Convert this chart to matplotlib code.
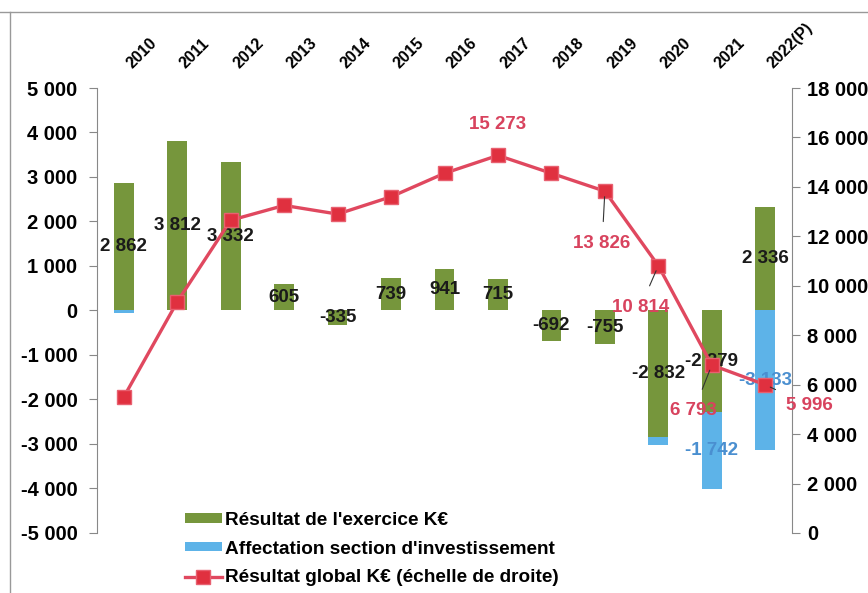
import numpy as np
import matplotlib
matplotlib.use('Agg')
import matplotlib.pyplot as plt
from matplotlib.lines import Line2D

plt.rcParams['font.family'] = ['Liberation Sans', 'DejaVu Sans']
plt.rcParams['font.weight'] = 'bold'

years = ['2010', '2011', '2012', '2013', '2014', '2015', '2016', '2017',
         '2018', '2019', '2020', '2021', '2022(P)']
resultat = [2862, 3812, 3332, 605, -335, 739, 941, 715, -692, -755, -2832, -2279, 2336]
affectation = [-50, 0, 0, 0, 0, 0, 0, 0, 0, 0, -190, -1742, -3133]
global_res = [5500, 9350, 12650, 13250, 12900, 13600, 14550, 15273, 14550, 13826,
              10814, 6793, 5996]

green = '#76963c'
blue = '#5db3e8'
red = '#e0485f'
redtxt = '#d8435e'

def fmt(v):
    return '{:,}'.format(int(v)).replace(',', ' ')

fig = plt.figure(figsize=(8.68, 5.93), dpi=100)
ax = fig.add_axes([0.1118, 0.1012, 0.8006, 0.7504])
ax2 = ax.twinx()

x = np.arange(len(years))
w = 0.37
res = np.array(resultat)
aff = np.array(affectation)
# blue stacks under the green when green is negative, otherwise from 0
base = np.where(res < 0, res, 0)
ax.bar(x, res, w, color=green, zorder=2, label="Résultat de l'exercice K€")
ax.bar(x, aff, w, bottom=base, color=blue, zorder=2,
       label="Affectation section d'investissement")

for i in range(len(years)):
    ax.text(x[i], res[i] / 2, fmt(res[i]), ha='center', va='center',
            fontsize=13.5, color='#1a1a1a', zorder=5)
    if aff[i] <= -1000:
        ax.text(x[i], base[i] + aff[i] / 2, fmt(aff[i]), ha='center', va='center',
                fontsize=13.5, color='#4a8fd0', zorder=5)

ax2.plot(x, global_res, color=red, lw=2.4, marker='s', ms=10,
         mfc='#e0303f', mec='#e86070', zorder=4,
         label='Résultat global K€ (échelle de droite)')

# labels of the red line (only the ones shown in the source)
offsets = {7: (0, 22, False), 9: (-2, -38, True), 10: (-13, -30, True),
           11: (-13, -33, True), 12: (32, -15, True)}
for i, (dx, dy, lead) in offsets.items():
    ax2.annotate(fmt(global_res[i]), (x[i], global_res[i]), xytext=(dx, dy),
                 textcoords='offset points', ha='center', va='center',
                 fontsize=13.5, color=redtxt, zorder=6,
                 arrowprops=dict(arrowstyle='-', color='#333333', lw=0.8,
                                 shrinkA=8, shrinkB=4) if lead else None)

ax.set_xlim(-0.5, len(years) - 0.5)
ax.set_ylim(-5000, 5000)
ax2.set_ylim(0, 18000)
ax.set_yticks(np.arange(-5000, 5001, 1000))
ax.set_yticklabels([fmt(v) for v in np.arange(-5000, 5001, 1000)])
ax2.set_yticks(np.arange(0, 18001, 2000))
ax2.set_yticklabels([fmt(v) for v in np.arange(0, 18001, 2000)])

ax.set_xticks(x)
ax.set_xticklabels(years, rotation=45, fontsize=11.5, ha='left')
ax.xaxis.tick_top()
ax.tick_params(axis='x', length=0, pad=12)
ax.tick_params(axis='y', labelsize=14.5, color='#888888', length=6, width=0.8, pad=8)
ax2.tick_params(axis='y', labelsize=14.5, color='#888888', length=6, width=0.8, pad=5)

for a in (ax, ax2):
    for s in ('top', 'bottom'):
        a.spines[s].set_visible(False)
ax.spines['right'].set_visible(False)
ax2.spines['left'].set_visible(False)
ax.spines['left'].set_color('#888888')
ax2.spines['right'].set_color('#888888')

h1, l1 = ax.get_legend_handles_labels()
h2, l2 = ax2.get_legend_handles_labels()
fig.legend(h1 + h2, l1 + l2, loc='upper left', bbox_to_anchor=(0.213, 0.137),
           frameon=False, fontsize=13.7, handlelength=1.95, handleheight=0.37,
           handletextpad=0.15, labelspacing=0.62, borderaxespad=0, borderpad=0)

# scan border lines
fig.add_artist(Line2D([0, 1], [0.98, 0.98], color='#999999', lw=1))
fig.add_artist(Line2D([0.0115, 0.0115], [0, 0.98], color='#999999', lw=1))

fig.savefig('out.png', dpi=100)
